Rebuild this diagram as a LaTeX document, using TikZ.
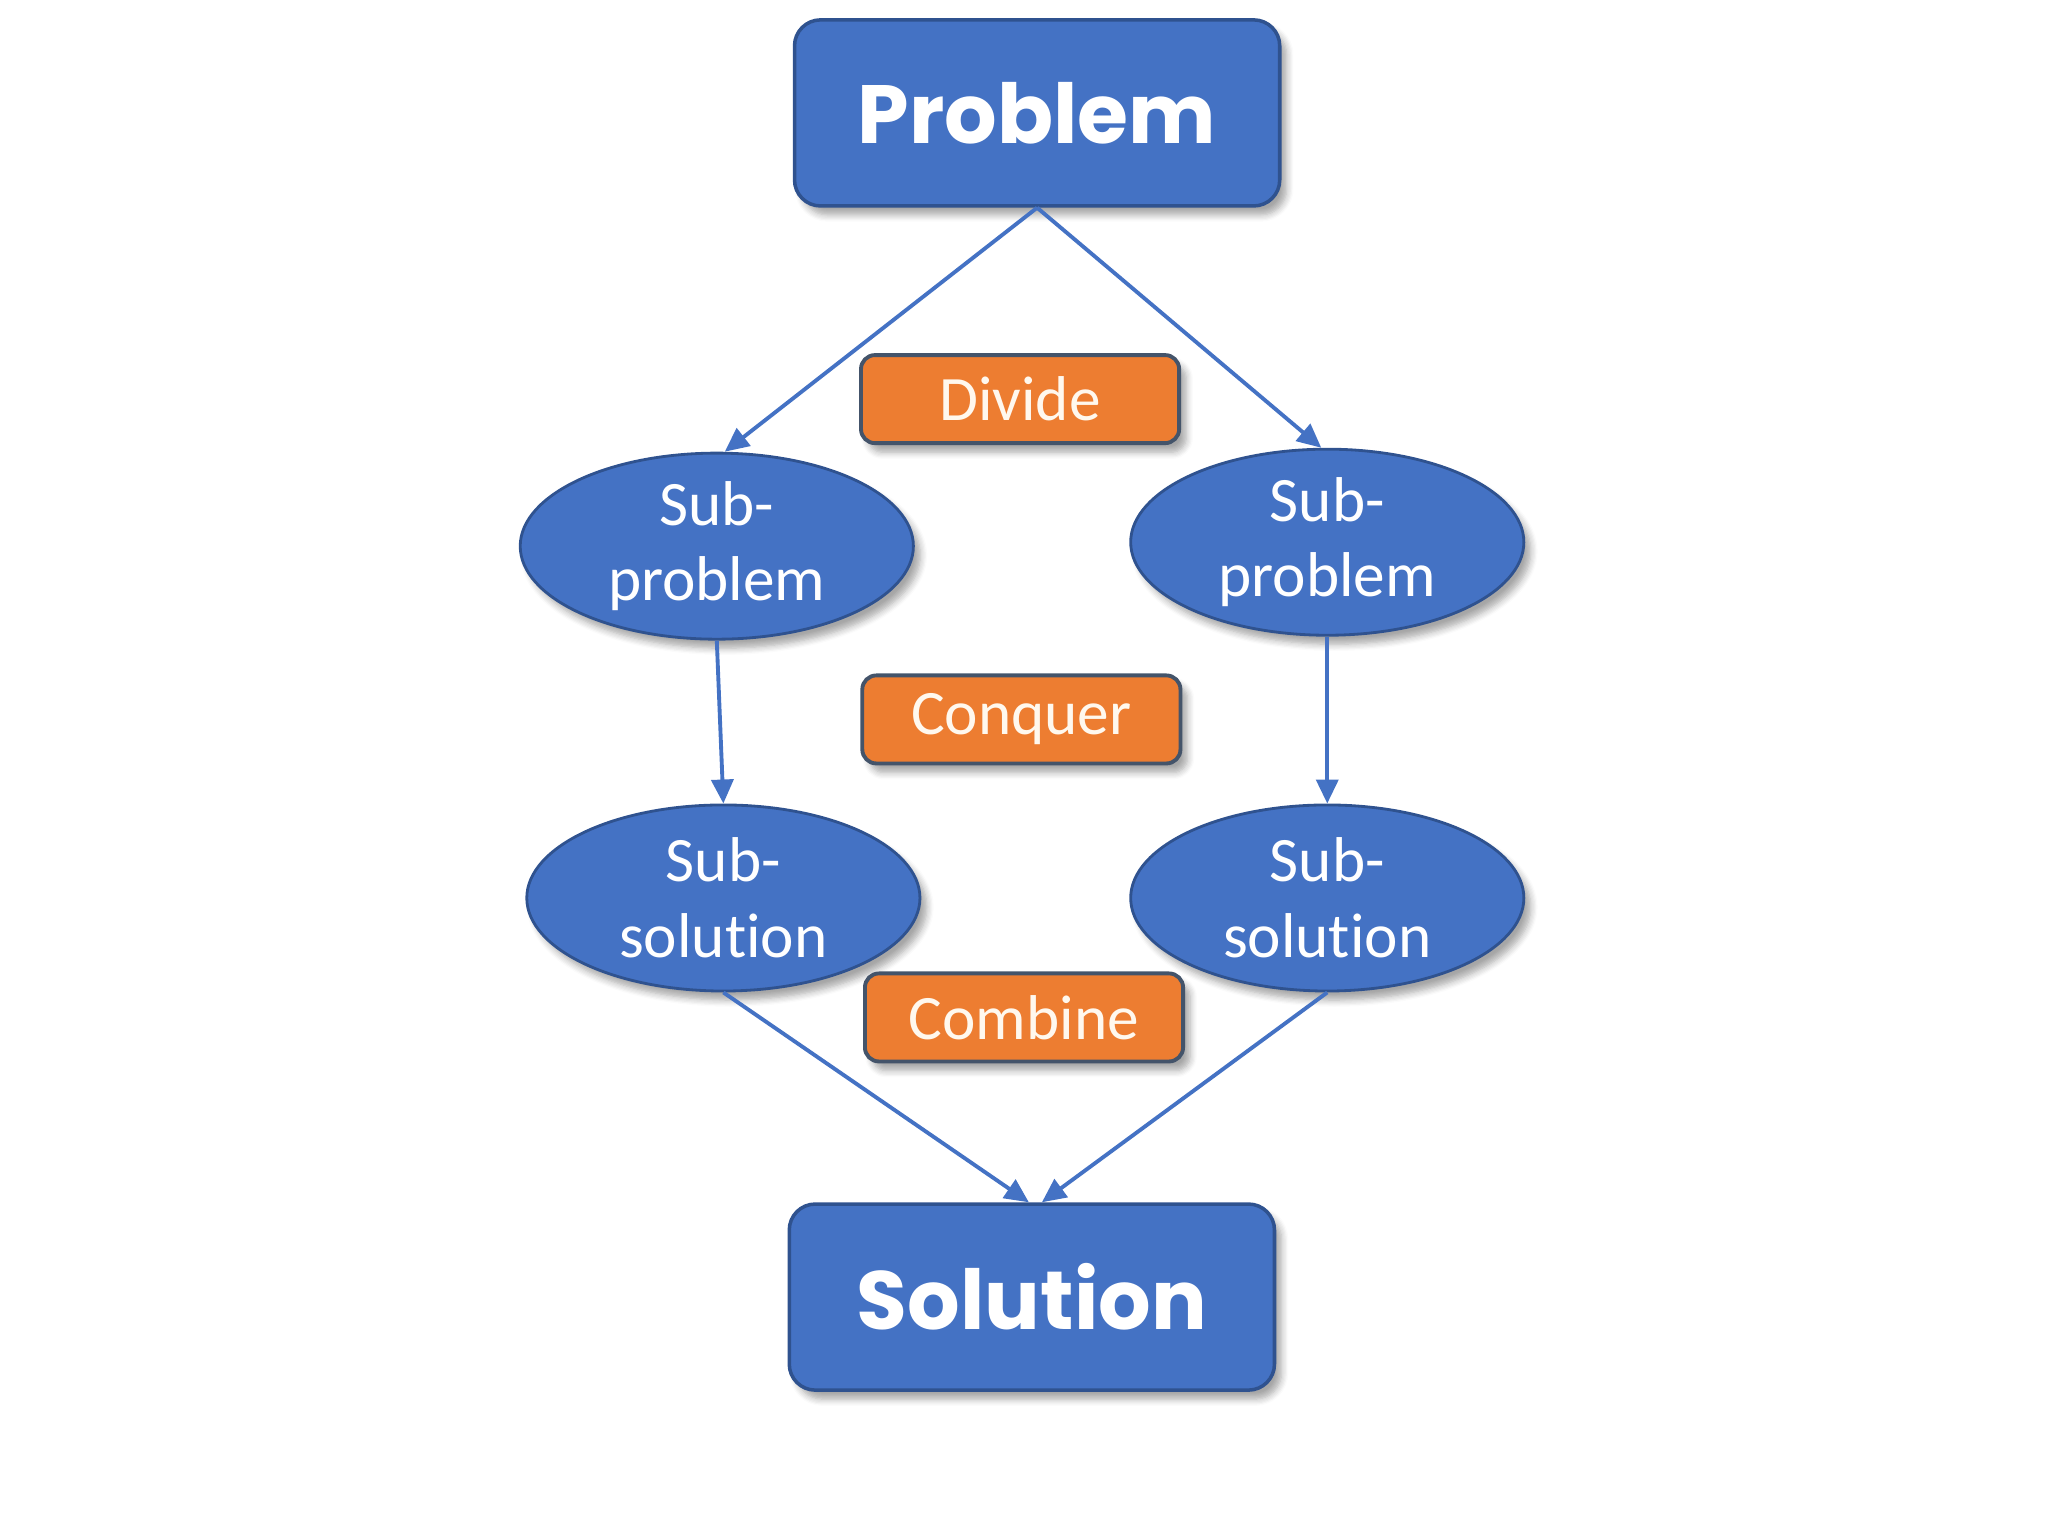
\documentclass[tikz,border=0pt]{standalone}
\usepackage{fontspec}
\setmainfont{Carlito}[Ligatures={NoCommon,NoContextual}]
\newfontfamily\popp{Poppins}
\usetikzlibrary{shapes.geometric,arrows.meta,shadows.blur}
\definecolor{obblue}{HTML}{4472C4}
\definecolor{obedge}{HTML}{2F528F}
\definecolor{oborange}{HTML}{ED7D31}
\definecolor{oredge}{HTML}{44546A}
\definecolor{cream}{HTML}{FFF8EE}
\tikzset{
  shd/.style={blur shadow={shadow xshift=0.7mm, shadow yshift=-0.9mm, shadow blur steps=6, shadow opacity=35}},
  bigbox/.style={shd, rectangle, rounded corners=0.26cm, fill=obblue, draw=obedge, line width=1pt,
    minimum width=4.85cm, minimum height=1.86cm, text=white, font=\popp\bfseries\fontsize{23.5}{28}\selectfont},
  tagbox/.style={shd, rectangle, rounded corners=0.14cm, fill=oborange, draw=oredge, line width=1.1pt,
    minimum width=3.18cm, minimum height=0.88cm, inner sep=0pt, text=cream, font=\fontsize{18}{21}\selectfont},
  oval/.style={shd, ellipse, fill=obblue, draw=obedge, line width=0.8pt,
    minimum width=3.93cm, minimum height=1.86cm, inner xsep=0pt, inner ysep=-3pt, align=center,
    text=white, font=\fontsize{18}{21.5}\selectfont},
  conn/.style={draw=obblue, line width=1.1pt, -{Triangle[length=2.4mm,width=2.2mm]}}
}
\begin{document}
\begin{tikzpicture}[x=0.013128cm, y=-0.013128cm]
\useasboundingbox (0,0) rectangle (1560,1170);
\node[bigbox] (prob) at (790,86) {Problem};
\node[tagbox] (divide) at (777,304) {Divide};
\node[oval] (sp1) at (546,416) {Sub-\\problem};
\node[oval] (sp2) at (1011,413) {Sub-\\problem};
\node[tagbox] (conquer) at (778,548) {Conquer};
\node[oval] (ss1) at (551,684) {Sub-\\solution};
\node[oval] (ss2) at (1011,684) {Sub-\\solution};
\node[tagbox] (combine) at (780,775) {Combine};
\node[bigbox] (sol) at (786,988) {Solution};
\draw[conn] (prob.south) -- ([xshift=0.08cm]sp1.north);
\draw[conn] (prob.south) -- ([xshift=-0.06cm]sp2.north);
\draw[conn] (sp1.south) -- (ss1.north);
\draw[conn] (sp2.south) -- (ss2.north);
\draw[conn] (ss1.south) -- ([xshift=-0.03cm]sol.north);
\draw[conn] (ss2.south) -- ([xshift=0.1cm]sol.north);
\end{tikzpicture}
\end{document}
